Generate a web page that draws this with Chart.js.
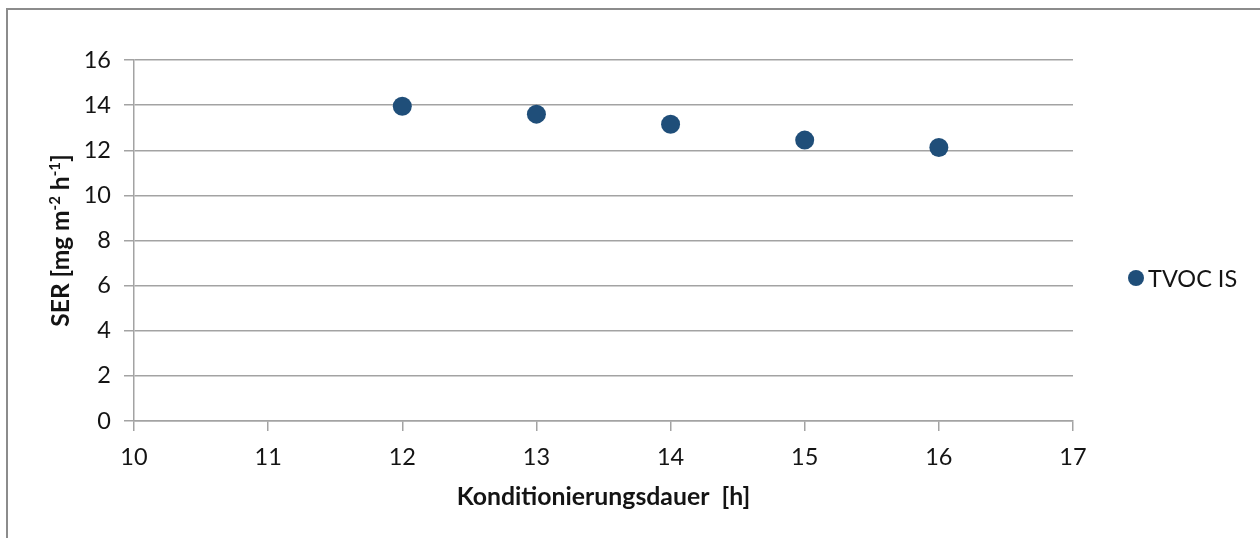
<!DOCTYPE html>
<html><head><meta charset="utf-8">
<script src="https://cdn.jsdelivr.net/npm/chart.js@4/dist/chart.umd.min.js"></script>
<style>html,body{margin:0;padding:0;background:#fff;overflow:hidden}
#wrap{position:absolute;left:0;top:0;width:1260px;height:538px}</style>
</head><body><div id="wrap"><canvas id="c" width="1260" height="538"></canvas></div>
<script>
// ---- data ----
const conditioningHours = [12, 13, 14, 15, 16];
const serTVOC = [13.95, 13.6, 13.15, 12.45, 12.12];
const seriesLabel = 'TVOC IS';
const xAxisRange = [10, 17];
const yAxisRange = [0, 16];
const yAxisStep = 2;
const xAxisTitle = 'Konditionierungsdauer  [h]';
const yAxisTitleParts = [['SER [mg m', 0], ['-2', 1], [' h', 0], ['-1', 1], [']', 0]];

const FONT = 'Lato, "Liberation Sans", sans-serif';
const TEXT = '#141414';
const GRID = '#a3a3a3';
const MARK = '#1f4e79';

const decor = {
  id: 'decor',
  beforeDraw(chart) {
    const ctx = chart.ctx;
    ctx.save();
    ctx.strokeStyle = '#8c8c8c';
    ctx.lineWidth = 2;
    ctx.strokeRect(7, 9, 1400, 700);
    ctx.restore();
  },
  afterDraw(chart) {
    const ctx = chart.ctx;
    const ca = chart.chartArea;
    ctx.save();
    ctx.fillStyle = TEXT;
    // x title
    ctx.font = 'bold 24.8px ' + FONT;
    ctx.textAlign = 'center';
    ctx.textBaseline = 'middle';
    ctx.fillText(xAxisTitle, (ca.left + ca.right) / 2, 497);
    // y title (rotated with superscripts)
    const big = 'bold 24.5px ' + FONT, small = 'bold 15px ' + FONT;
    let total = 0;
    yAxisTitleParts.forEach(([t, s]) => { ctx.font = s ? small : big; total += ctx.measureText(t).width; });
    ctx.translate(61, (ca.top + ca.bottom) / 2);
    ctx.rotate(-Math.PI / 2);
    ctx.textAlign = 'left';
    ctx.textBaseline = 'alphabetic';
    let x = -total / 2;
    yAxisTitleParts.forEach(([t, s]) => {
      ctx.font = s ? small : big;
      ctx.fillText(t, x, s ? -1 : 8);
      x += ctx.measureText(t).width;
    });
    ctx.restore();
    // legend
    ctx.save();
    ctx.fillStyle = MARK;
    ctx.beginPath();
    ctx.arc(1136, 278, 8, 0, Math.PI * 2);
    ctx.fill();
    ctx.fillStyle = TEXT;
    ctx.font = '23.5px ' + FONT;
    ctx.textAlign = 'left';
    ctx.textBaseline = 'middle';
    ctx.fillText(chart.data.datasets[0].label, 1148, 279);
    ctx.restore();
  }
};

new Chart(document.getElementById('c'), {
  type: 'scatter',
  data: {
    datasets: [{
      label: seriesLabel,
      data: conditioningHours.map((h, i) => ({ x: h, y: serTVOC[i] })),
      backgroundColor: MARK,
      borderWidth: 0,
      pointRadius: 9.5,
      pointHoverRadius: 9.5
    }]
  },
  options: {
    responsive: false,
    devicePixelRatio: 1,
    animation: false,
    layout: { padding: { left: 0, right: 187, top: 60, bottom: 0 } },
    plugins: { legend: { display: false }, tooltip: { enabled: false } },
    scales: {
      x: {
        type: 'linear', min: xAxisRange[0], max: xAxisRange[1],
        afterFit(s) { s.height = 117; },
        ticks: { stepSize: 1, color: TEXT, font: { family: FONT, size: 23.5 }, padding: 12, maxRotation: 0 },
        grid: { drawOnChartArea: false, drawTicks: true, tickLength: 10, color: GRID, lineWidth: 1.5 },
        border: { display: true, color: GRID, width: 1.5 }
      },
      y: {
        min: yAxisRange[0], max: yAxisRange[1],
        afterFit(s) { s.width = 134; },
        ticks: { stepSize: yAxisStep, color: TEXT, font: { family: FONT, size: 23.5 }, padding: 13 },
        grid: { drawOnChartArea: true, drawTicks: true, tickLength: 10, color: GRID, lineWidth: 1.5 },
        border: { display: true, color: GRID, width: 1.5 }
      }
    }
  },
  plugins: [decor]
});
</script>
</body></html>
